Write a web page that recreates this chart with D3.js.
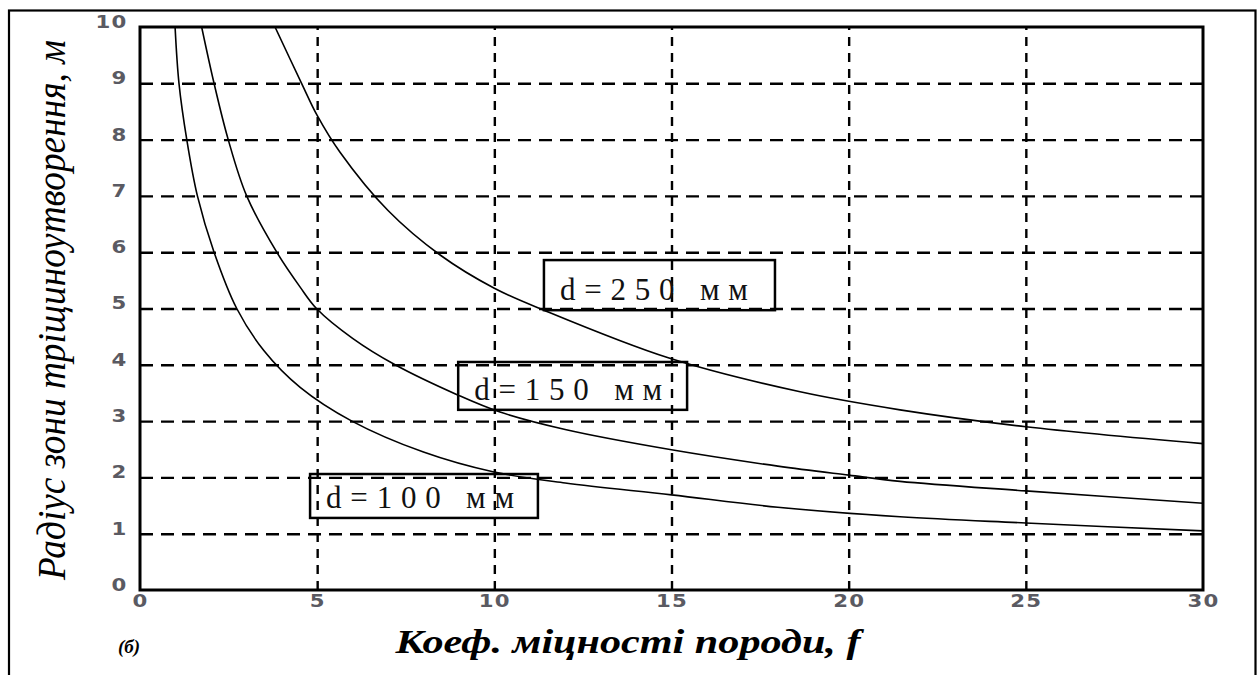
<!DOCTYPE html>
<html><head><meta charset="utf-8">
<script src="https://cdn.jsdelivr.net/npm/d3@7"></script>
<style>body{margin:0;background:#fff}</style>
</head><body><svg id="c" width="1258" height="675"></svg>
<script>
// ---- data ----
const xTickValues = [0, 5, 10, 15, 20, 25, 30];
const yTickValues = [0, 1, 2, 3, 4, 5, 6, 7, 8, 9, 10];
const seriesNames = ["d=100 мм", "d=150 мм", "d=250 мм"];

const f100 = [0.99, 1.1, 1.32, 1.62, 2.09, 2.73, 3.5, 4.52, 5.98, 8, 9.96, 12, 15, 18, 21.45, 25, 30];
const r100 = [10, 9, 8, 7, 6, 5, 4.25, 3.6, 3.0, 2.45, 2.1, 1.9, 1.69, 1.47, 1.30, 1.19, 1.05];

const f150 = [1.74, 2.09, 2.49, 3.01, 3.86, 4.52, 4.98, 6, 7.2, 8.98, 10.16, 12, 15, 18, 20, 21.45, 25, 30];
const r150 = [10, 9, 8, 7, 6, 5.38, 5, 4.47, 4.0, 3.46, 3.16, 2.85, 2.49, 2.2, 2.04, 1.93, 1.76, 1.54];

const f250 = [3.81, 4.56, 5, 5.64, 7, 8.47, 10, 11.4, 14.93, 18.63, 21.45, 25, 30];
const r250 = [10, 9, 8.43, 7.78, 6.74, 5.95, 5.36, 4.97, 4.12, 3.52, 3.2, 2.9, 2.6];

// label boxes in data units [x0, x1, yTop, yBottom]
const labelBoxes = [[4.80, 11.23, 2.06, 1.28], [8.98, 15.44, 4.05, 3.20], [11.40, 17.92, 5.86, 4.97]];

// ---- layout ----
const L = 140, T = 27, R = 1203, B = 590;
const svg = d3.select("#c");
const x = d3.scaleLinear().domain([0, 30]).range([L, R]);
const y = d3.scaleLinear().domain([0, 10]).range([B, T]);

// outer frame
svg.append("rect").attr("x", 9).attr("y", 10.5).attr("width", 1246.5).attr("height", 720)
  .attr("fill", "none").attr("stroke", "#000").attr("stroke-width", 2.2);

// grid (horizontal)
const gy = svg.append("g").attr("transform", `translate(${L},0)`)
  .call(d3.axisLeft(y).tickValues(yTickValues.filter(v => v > 0 && v < 10)).tickSize(-(R - L)).tickFormat(""));
gy.select(".domain").remove();
gy.selectAll("line").attr("stroke", "#000").attr("stroke-width", 2.4).attr("stroke-dasharray", "13,8");

// grid (vertical)
const gx = svg.append("g").attr("transform", `translate(0,${B})`)
  .call(d3.axisBottom(x).tickValues(xTickValues.filter(v => v > 0 && v < 30)).tickSize(-(B - T)).tickFormat(""));
gx.select(".domain").remove();
gx.selectAll("line").attr("stroke", "#000").attr("stroke-width", 2.4).attr("stroke-dasharray", "9,7");

// clip
svg.append("clipPath").attr("id", "clip").append("rect")
  .attr("x", L).attr("y", T).attr("width", R - L).attr("height", B - T);

// curves
const line = d3.line().x(d => x(d[0])).y(d => y(d[1])).curve(d3.curveCatmullRom.alpha(0.5));
const series = [d3.zip(f100, r100), d3.zip(f150, r150), d3.zip(f250, r250)];
svg.append("g").attr("clip-path", "url(#clip)").selectAll("path").data(series).join("path")
  .attr("d", line).attr("fill", "none").attr("stroke", "#000").attr("stroke-width", 1.6);

// plot frame
svg.append("rect").attr("x", L).attr("y", T).attr("width", R - L).attr("height", B - T)
  .attr("fill", "none").attr("stroke", "#000").attr("stroke-width", 3);

// tick labels
const ay = svg.append("g").attr("transform", `translate(${L},0)`)
  .call(d3.axisLeft(y).tickValues(yTickValues).tickSize(0).tickFormat(d3.format("d")));
ay.select(".domain").remove();
ay.selectAll("text").attr("x", -10).attr("y", -5)
  .attr("transform", "scale(1.25,1)")
  .style("font-family", "DejaVu Sans").style("font-weight", "bold").style("font-size", "17px").style("fill", "#5a5a62")
  .style("letter-spacing", "1px");

const ax = svg.append("g").attr("transform", `translate(0,${B})`)
  .call(d3.axisBottom(x).tickValues(xTickValues).tickSize(0).tickFormat(d3.format("d")));
ax.select(".domain").remove();
ax.selectAll("text").attr("y", 5)
  .attr("transform", "scale(1.25,1)")
  .style("font-family", "DejaVu Sans").style("font-weight", "bold").style("font-size", "17px").style("fill", "#5a5a62")
  .style("letter-spacing", "1px");

// label boxes
labelBoxes.forEach((b, i) => {
  const x0 = x(b[0]), x1 = x(b[1]), y0 = y(b[2]), y1 = y(b[3]);
  svg.append("rect").attr("x", x0).attr("y", y0).attr("width", x1 - x0).attr("height", y1 - y0)
    .attr("fill", "none").attr("stroke", "#000").attr("stroke-width", 2.5);
  svg.append("text").attr("x", x0 + 16).attr("y", y1 - 10)
    .attr("textLength", 188).attr("lengthAdjust", "spacing")
    .style("font-family", "Liberation Serif").style("font-size", "31px").style("fill", "#111")
    .text(seriesNames[i]);
});

// axis titles
svg.append("text").attr("transform", "translate(65,310) rotate(-90)")
  .attr("text-anchor", "middle").attr("textLength", 540).attr("lengthAdjust", "spacingAndGlyphs")
  .style("font-family", "Liberation Serif").style("font-style", "italic").style("font-size", "40px")
  .text("Радіус зони тріщиноутворення, м");

svg.append("text").attr("x", 628).attr("y", 653)
  .attr("text-anchor", "middle").attr("textLength", 465).attr("lengthAdjust", "spacingAndGlyphs")
  .style("font-family", "Liberation Serif").style("font-style", "italic").style("font-weight", "bold")
  .style("font-size", "33px")
  .text("Коеф. міцності породи, f");

svg.append("text").attr("x", 118).attr("y", 653)
  .style("font-family", "Liberation Serif").style("font-style", "italic").style("font-weight", "bold")
  .style("font-size", "19px")
  .text("(б)");
</script>
</body></html>
